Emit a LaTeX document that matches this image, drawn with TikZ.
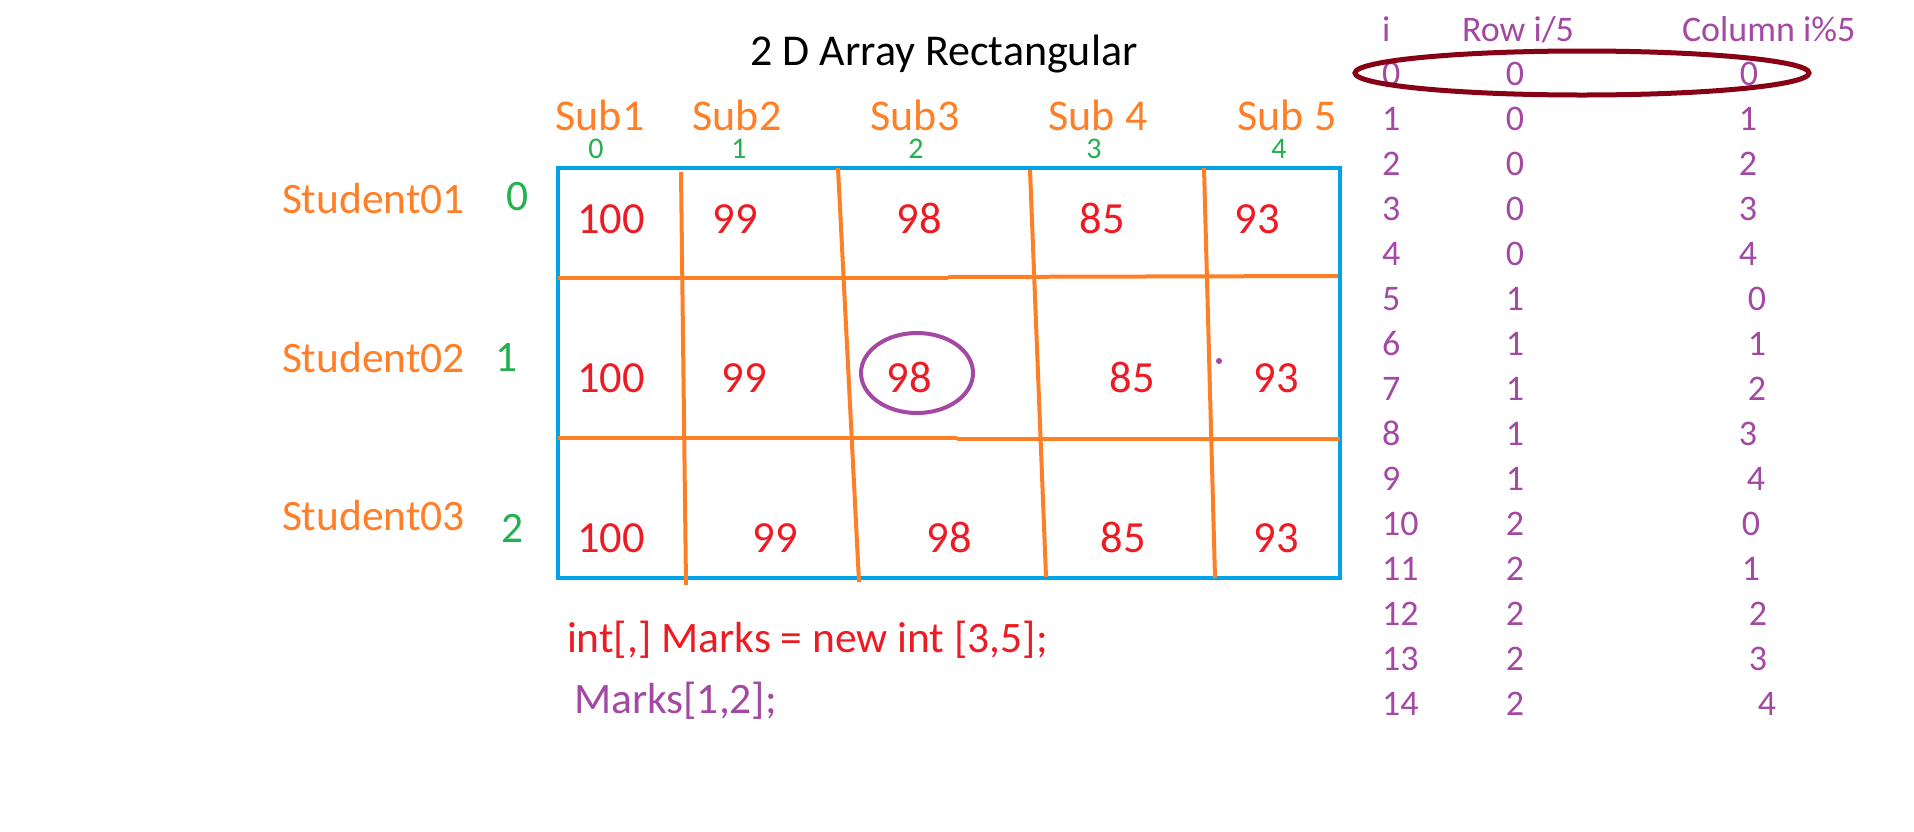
\documentclass[tikz,border=0pt]{standalone}
\usepackage{fontspec}
\setmainfont{Carlito}
\definecolor{pred}{HTML}{ED1C24}
\definecolor{porange}{HTML}{FF7F27}
\definecolor{pgreen}{HTML}{22B14C}
\definecolor{pblue}{HTML}{00A2E8}
\definecolor{ppurple}{HTML}{A349A4}
\definecolor{pdarkred}{HTML}{880015}
\newcommand\pxsize[1]{\fontsize{#1}{#1}\selectfont}
\begin{document}
\begin{tikzpicture}[x=1pt,y=-1pt,
  txt/.style={inner sep=0pt, outer sep=0pt},
  titletext/.style={txt, anchor=base, text=black, font=\pxsize{44}},
  subtext/.style={txt, anchor=base, text=porange, text depth=0pt, font=\pxsize{44}},
  colidx/.style={txt, anchor=base, text=pgreen, text height=19pt, font=\pxsize{30}},
  studtext/.style={txt, anchor=base west, text=porange, font=\pxsize{43.5}},
  rowidx/.style={txt, anchor=base, text=pgreen, font=\pxsize{43.5}},
  markval/.style={txt, anchor=base, text=pred, font=\pxsize{44.5}},
  codetext/.style={txt, anchor=base west, font=\pxsize{43.5}},
  tblhead/.style={txt, anchor=base west, text=ppurple, font=\pxsize{36}},
  tblleft/.style={txt, anchor=base west, text=ppurple, font=\pxsize{36}},
  tblmid/.style={txt, anchor=base, text=ppurple, font=\pxsize{36}},
  gridline/.style={draw=porange, line width=4pt},
  frame/.style={draw=pblue, line width=4.5pt}
]
\useasboundingbox (0,0) rectangle (1914,831);
\fill[white] (0,0) rectangle (1914,831);

% title
\node[titletext] (title) at (944,65) {2 D Array Rectangular};

% subject headers
\node[subtext] (sub1) at (600,130) {Sub1};
\node[subtext] (sub2) at (737,130) {Sub2};
\node[subtext] (sub3) at (915,130) {Sub3};
\node[subtext] (sub4) at (1098,130) {Sub 4};
\node[subtext] (sub5) at (1287,130) {Sub 5};
\node[colidx] (c0) at (596,158) {0};
\node[colidx] (c1) at (739,158) {1};
\node[colidx] (c2) at (916,158) {2};
\node[colidx] (c3) at (1094,158) {3};
\node[colidx] (c4) at (1279,158) {4};

% frame
\draw[frame] (558,168) rectangle (1340,578);

% grid lines
\draw[gridline] (558,278) -- (948,278);
\draw[gridline] (948,277) -- (1338,276);
\draw[gridline] (558,438) -- (957,438);
\draw[gridline] (957,439) -- (1340,439);
\draw[gridline] (681,172) -- (686,585);
\draw[gridline] (838,168) -- (859,582);
\draw[gridline] (1030,170) -- (1046,577);
\draw[gridline] (1204,168) -- (1215,578);

% student labels
\node[studtext] (s1) at (282,213) {Student01};
\node[studtext] (s2) at (282,372) {Student02};
\node[studtext] (s3) at (282,530) {Student03};
\node[rowidx] (r0) at (518,210) {0};
\node[rowidx] (r1) at (507,371) {1};
\node[rowidx] (r2) at (513,542) {2};

% marks
\foreach \x/\v [count=\k] in {611/100,735/99,919/98,1102/85,1257/93}
  \node[markval] (m1-\k) at (\x,233) {\v};
\foreach \x/\v [count=\k] in {611/100,744/99,909/98,1132/85,1276/93}
  \node[markval] (m2-\k) at (\x,392) {\v};
\foreach \x/\v [count=\k] in {611/100,775/99,949/98,1123/85,1276/93}
  \node[markval] (m3-\k) at (\x,552) {\v};

% highlight
\draw[ppurple, line width=4pt] (917,373) ellipse [x radius=56, y radius=40];
\fill[ppurple] (1219,361) circle [radius=3];

% code
\node[codetext, text=pred] (code1) at (567,652) {int[,] Marks = new int [3,5];};
\node[codetext, text=ppurple] (code2) at (574,713) {Marks[1,2];};

% right table
\node[tblhead] (hi) at (1382,41) {i};
\node[tblhead] (hrow) at (1462,41) {Row i/5};
\node[tblhead] (hcol) at (1682,41) {Column i\%5};
\foreach \i/\r/\cx/\c in {0/0/1749/0,1/0/1748/1,2/0/1748/2,3/0/1748/3,4/0/1748/4,
  5/1/1757/0,6/1/1757/1,7/1/1757/2,8/1/1748/3,9/1/1756/4,
  10/2/1751/0,11/2/1751/1,12/2/1758/2,13/2/1758/3,14/2/1767/4}{
  \node[tblleft] (ti-\i) at (1382,{85+45*\i}) {\i};
  \node[tblmid] (tr-\i) at (1515,{85+45*\i}) {\r};
  \node[tblmid] (tc-\i) at (\cx,{85+45*\i}) {\c};
}

\draw[pdarkred, line width=5pt] (1582,73) ellipse [x radius=227, y radius=22];
\end{tikzpicture}
\end{document}
